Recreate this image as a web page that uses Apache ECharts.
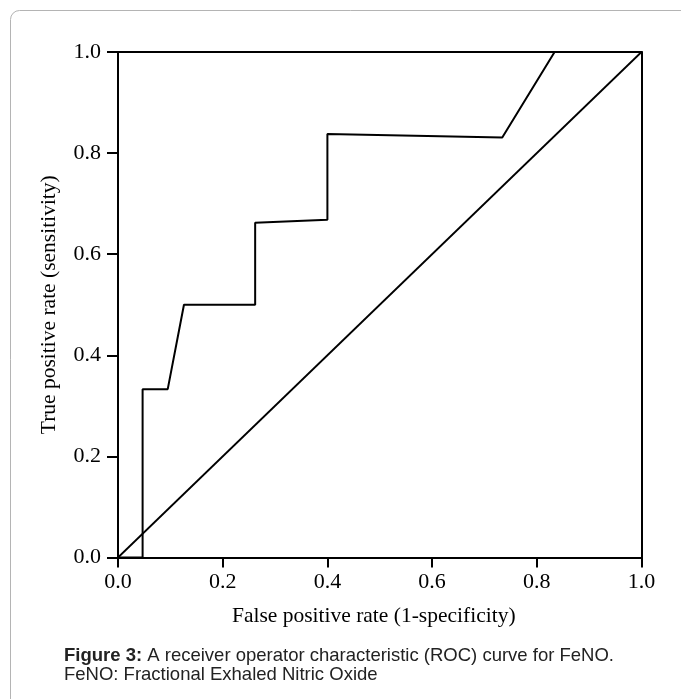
<!DOCTYPE html>
<html>
<head>
<meta charset="utf-8">
<script src="https://cdn.jsdelivr.net/npm/echarts@6/dist/echarts.min.js"></script>
<style>
  html, body { margin: 0; padding: 0; background: #fff; }
  #chart { width: 681px; height: 699px; }
</style>
</head>
<body>
<div id="chart"></div>
<script>
// ROC curve points: [false positive rate, true positive rate]
var rocFpr = [0, 0.047, 0.047, 0.095, 0.126, 0.262, 0.262, 0.400, 0.400, 0.734, 0.834, 1.0];
var rocTpr = [0, 0, 0.333, 0.333, 0.500, 0.500, 0.662, 0.668, 0.838, 0.831, 1.0, 1.0];
// chance line
var chanceX = [0, 1];
var chanceY = [0, 1];
var tickLabels = ['0.0', '0.2', '0.4', '0.6', '0.8', '1.0'];

var xTitle = 'False positive rate (1-specificity)';
var yTitle = 'True positive rate (sensitivity)';
var captionBold = 'Figure 3:';
var captionRest = ' A receiver operator characteristic (ROC) curve for FeNO.';
var captionLine2 = 'FeNO: Fractional Exhaled Nitric Oxide';

function pairs(xs, ys) {
    var out = [];
    for (var i = 0; i < xs.length; i++) out.push([xs[i], ys[i]]);
    return out;
}
function tickFmt(v) {
    return tickLabels[Math.round(v / 0.2)];
}

var serif = 'Liberation Serif';
var chart = echarts.init(document.getElementById('chart'));

var option = {
    animation: false,
    backgroundColor: '#fff',
    grid: { left: 118, top: 52, right: 39.5, bottom: 141.5, containLabel: false },
    xAxis: [{
        type: 'value', min: 0, max: 1, interval: 0.2,
        name: xTitle, nameLocation: 'middle', nameGap: 48,
        nameTextStyle: { fontFamily: serif, fontSize: 21.5, color: '#000', padding: [0, 12, 0, 0] },
        axisLine: { onZero: false, lineStyle: { color: '#000', width: 2 } },
        axisTick: { length: 10, lineStyle: { color: '#000', width: 2 } },
        axisLabel: { formatter: tickFmt, fontFamily: serif, fontSize: 22, color: '#000', margin: 14 },
        splitLine: { show: false }
    }, {
        // top frame line
        type: 'value', min: 0, max: 1, position: 'top',
        axisLine: { onZero: false, lineStyle: { color: '#000', width: 2 } },
        axisTick: { show: false }, axisLabel: { show: false }, splitLine: { show: false }
    }],
    yAxis: [{
        type: 'value', min: 0, max: 1, interval: 0.2,
        name: yTitle, nameLocation: 'middle', nameGap: 58,
        nameTextStyle: { fontFamily: serif, fontSize: 21.5, color: '#000' },
        axisLine: { show: true, onZero: false, lineStyle: { color: '#000', width: 2 } },
        axisTick: { show: true, length: 11, lineStyle: { color: '#000', width: 2 } },
        axisLabel: { formatter: tickFmt, fontFamily: serif, fontSize: 22, color: '#000', margin: 17 },
        splitLine: { show: false }
    }, {
        // right frame line
        type: 'value', min: 0, max: 1, position: 'right',
        axisLine: { show: true, onZero: false, lineStyle: { color: '#000', width: 2 } },
        axisTick: { show: false }, axisLabel: { show: false }, splitLine: { show: false }
    }],
    series: [{
        type: 'line',
        data: pairs(chanceX, chanceY),
        showSymbol: false, symbol: 'none',
        lineStyle: { color: '#000', width: 1.8 },
        z: 3
    }, {
        type: 'line',
        data: pairs(rocFpr, rocTpr),
        showSymbol: false, symbol: 'none',
        lineStyle: { color: '#000', width: 2 },
        z: 4
    }],
    graphic: [{
        type: 'rect',
        shape: { x: 10.5, y: 10.5, width: 720, height: 760, r: 9 },
        style: { fill: null, stroke: '#b4b4b4', lineWidth: 1 },
        silent: true
    }, {
        type: 'text',
        left: 64, top: 646,
        style: {
            text: '{b|' + captionBold + '}{n|' + captionRest + '}\n{n|' + captionLine2 + '}',
            rich: {
                b: { fontFamily: 'Liberation Sans', fontWeight: 'bold', fontSize: 18.5, lineHeight: 19, fill: '#222' },
                n: { fontFamily: 'Liberation Sans', fontSize: 18.5, lineHeight: 19, fill: '#222' }
            }
        }
    }]
};
chart.setOption(option);
</script>
</body>
</html>
